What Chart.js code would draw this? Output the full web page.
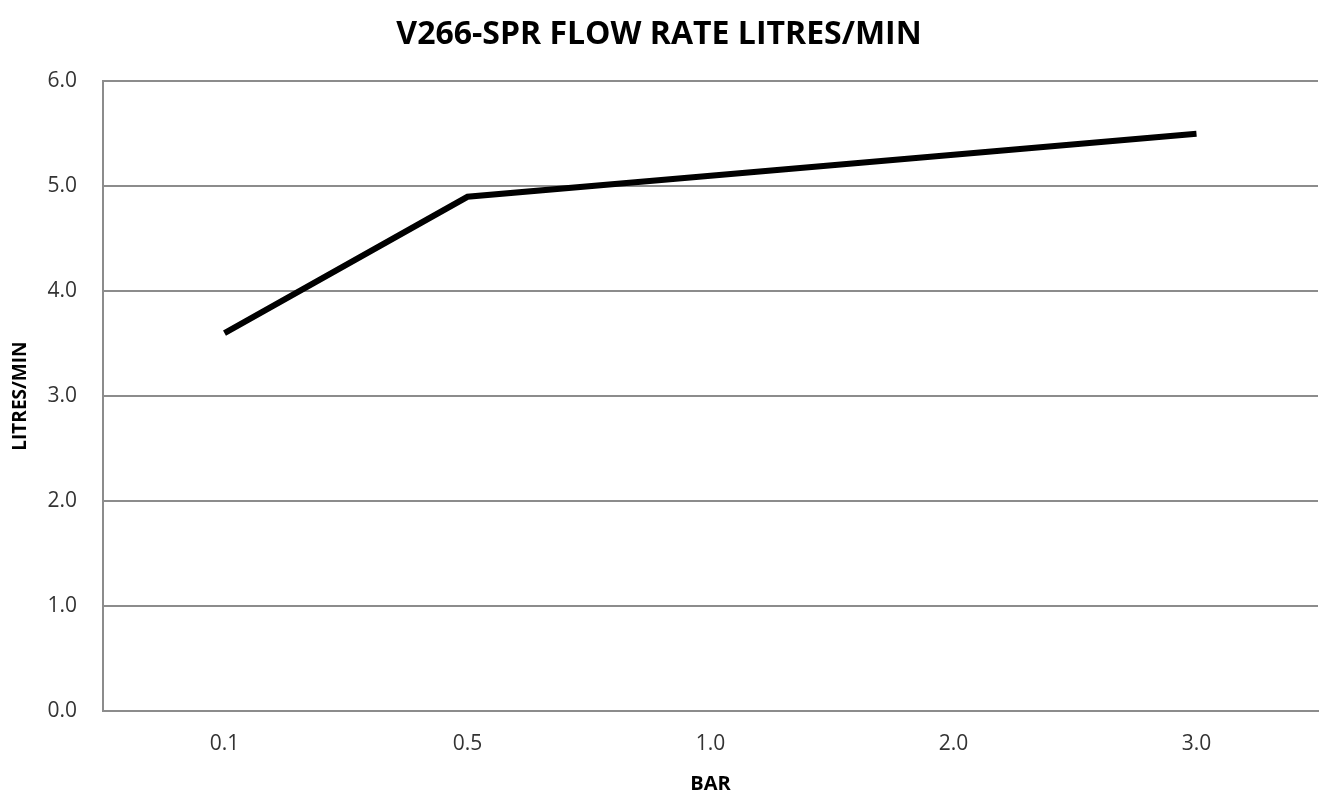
<!DOCTYPE html>
<html>
<head>
<meta charset="utf-8">
<script src="https://cdn.jsdelivr.net/npm/chart.js@4"></script>
<style>
  html, body { margin: 0; padding: 0; background: #fff; }
  #wrap { width: 1320px; height: 796px; position: relative; }
</style>
</head>
<body>
<div id="wrap"><canvas id="flowChart"></canvas></div>
<script>
    // pressure (bar) vs flow rate
    const barLabels = ['0.1', '0.5', '1.0', '2.0', '3.0'];
    const flowValues = [3.6, 4.9, 5.1, 5.3, 5.5];
    const yTicks = [0, 1, 2, 3, 4, 5, 6];

    const font = '"Open Sans", "DejaVu Sans", sans-serif';
    const gridColor = '#8c8c8c';

    new Chart(document.getElementById('flowChart'), {
        type: 'line',
        data: {
            labels: barLabels,
            datasets: [{
                label: 'Flow rate',
                data: flowValues,
                borderColor: '#000',
                borderWidth: 6,
                pointRadius: 0,
                tension: 0,
                borderCapStyle: 'butt'
            }]
        },
        options: {
            responsive: true,
            maintainAspectRatio: false,
            animation: false,
            layout: { padding: { left: 0, right: 2, top: 4, bottom: 0 } },
            plugins: {
                legend: { display: false },
                tooltip: { enabled: false },
                title: {
                    display: true,
                    text: 'V266-SPR FLOW RATE LITRES/MIN',
                    color: '#000',
                    font: { family: font, size: 32, weight: 'bold' },
                    padding: { top: 12, bottom: 27 }
                }
            },
            scales: {
                x: {
                    offset: true,
                    grid: { display: false, drawTicks: false },
                    border: { display: true, color: gridColor, width: 2 },
                    ticks: { color: '#333', font: { family: font, size: 21 }, padding: 21 },
                    title: {
                        display: true,
                        text: 'BAR',
                        color: '#000',
                        font: { family: font, size: 20, weight: 'bold' },
                        padding: { top: -6, bottom: 0 }
                    }
                },
                y: {
                    min: 0,
                    max: 6,
                    afterBuildTicks: axis => { axis.ticks = yTicks.map(v => ({ value: v })); },
                    afterFit: axis => { axis.width = 103; },
                    grid: { color: gridColor, lineWidth: 2, drawTicks: false },
                    border: { display: true, color: gridColor, width: 2 },
                    ticks: {
                        color: '#333',
                        font: { family: font, size: 21 },
                        padding: 26,
                        callback: v => v.toFixed(1)
                    },
                    title: {
                        display: true,
                        text: 'LITRES/MIN',
                        color: '#000',
                        font: { family: font, size: 19, weight: 'bold' },
                        padding: { top: 9, bottom: 0 }
                    }
                }
            }
        }
    });
</script>
</body>
</html>
